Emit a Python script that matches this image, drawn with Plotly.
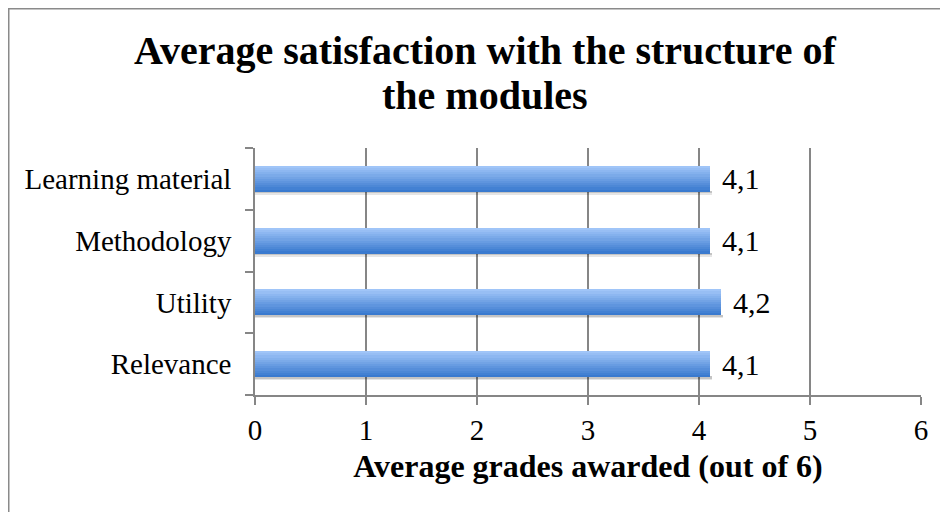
import plotly.graph_objects as go

categories = ["Relevance", "Utility", "Methodology", "Learning material"]
values = [4.1, 4.2, 4.1, 4.1]
x_ticks = [0, 1, 2, 3, 4, 5, 6]

title_lines = ["Average satisfaction with the structure of", "the modules"]
x_title = "Average grades awarded (out of 6)"

FONT = "Liberation Serif"
GRID = "#868686"

# gradient colours of the bars (top -> bottom)
top_rgb = (160, 197, 248)
bot_rgb = (58, 122, 207)
n_strips = 12
bar_w = 0.42

# page body has an 8px margin, so the figure starts at (8, 8) in the window
W, H = 940, 504
L, R, T, B = 247, 27, 140, 117
pw, ph = W - L - R, H - T - B


def px_x(x):  # figure pixel -> paper x
    return (x - L) / pw


def px_y(y):  # figure pixel (from top) -> paper y
    return 1 + (T - y) / ph


fig = go.Figure()

# soft shadow under the bars
for dy, alpha in [(0.06, 0.10), (0.035, 0.14)]:
    fig.add_trace(go.Bar(
        y=categories, x=[v + 0.02 for v in values], orientation="h",
        width=dy, offset=-bar_w / 2 - dy + 0.01,
        marker=dict(color=f"rgba(0,0,0,{alpha})", line=dict(width=0)),
        hoverinfo="skip", showlegend=False,
    ))

sw = bar_w / n_strips
for i in range(n_strips):
    t = i / (n_strips - 1)
    c = tuple(round(top_rgb[j] + (bot_rgb[j] - top_rgb[j]) * t) for j in range(3))
    fig.add_trace(go.Bar(
        y=categories, x=values, orientation="h",
        width=sw * 1.05, offset=bar_w / 2 - (i + 1) * sw,
        marker=dict(color=f"rgb{c}", line=dict(width=0)),
        hoverinfo="skip", showlegend=False,
    ))

for cat, v in zip(categories, values):
    fig.add_annotation(
        x=v, y=cat, text=f"{v:.1f}".replace(".", ","),
        xanchor="left", yanchor="middle", xshift=10, showarrow=False,
        font=dict(family=FONT, size=30, color="#000000"),
    )

# title, two centred lines
for line, cy in zip(title_lines, [43, 87]):
    fig.add_annotation(
        x=px_x(477), y=px_y(cy), xref="paper", yref="paper",
        text=line, xanchor="center", yanchor="middle", showarrow=False,
        font=dict(family=FONT, size=40, color="#000000", weight="bold"),
    )

# outer chart border
fig.add_shape(
    type="rect", xref="paper", yref="paper",
    x0=px_x(0.75), x1=px_x(960),
    y0=px_y(530), y1=px_y(0.75),
    line=dict(color="#8a8a8a", width=1.5), fillcolor="rgba(0,0,0,0)",
    layer="below",
)

fig.update_layout(
    width=W, height=H,
    margin=dict(l=L, r=R, t=T, b=B, pad=0),
    paper_bgcolor="white", plot_bgcolor="white",
    barmode="overlay", bargap=0,
    font=dict(family=FONT, size=29, color="#000000"),
    xaxis=dict(
        range=[0, 6], tickvals=x_ticks, ticktext=[str(t) for t in x_ticks],
        showgrid=True, gridcolor=GRID, gridwidth=1.5,
        showline=True, linecolor=GRID, linewidth=1.5,
        ticks="outside", ticklen=8, tickcolor=GRID, tickwidth=1.5,
        zeroline=False,
        tickfont=dict(family=FONT, size=29),
        title=dict(text=x_title, font=dict(family=FONT, size=32, weight="bold"), standoff=10),
    ),
    yaxis=dict(
        categoryorder="array", categoryarray=categories,
        showgrid=False, showline=True, linecolor=GRID, linewidth=1.5,
        ticks="outside", ticklen=8, tickcolor=GRID, tickwidth=1.5,
        tickson="boundaries", zeroline=False,
        tickfont=dict(family=FONT, size=29),
        ticklabelstandoff=16,
    ),
)

fig.write_html("out.html")
